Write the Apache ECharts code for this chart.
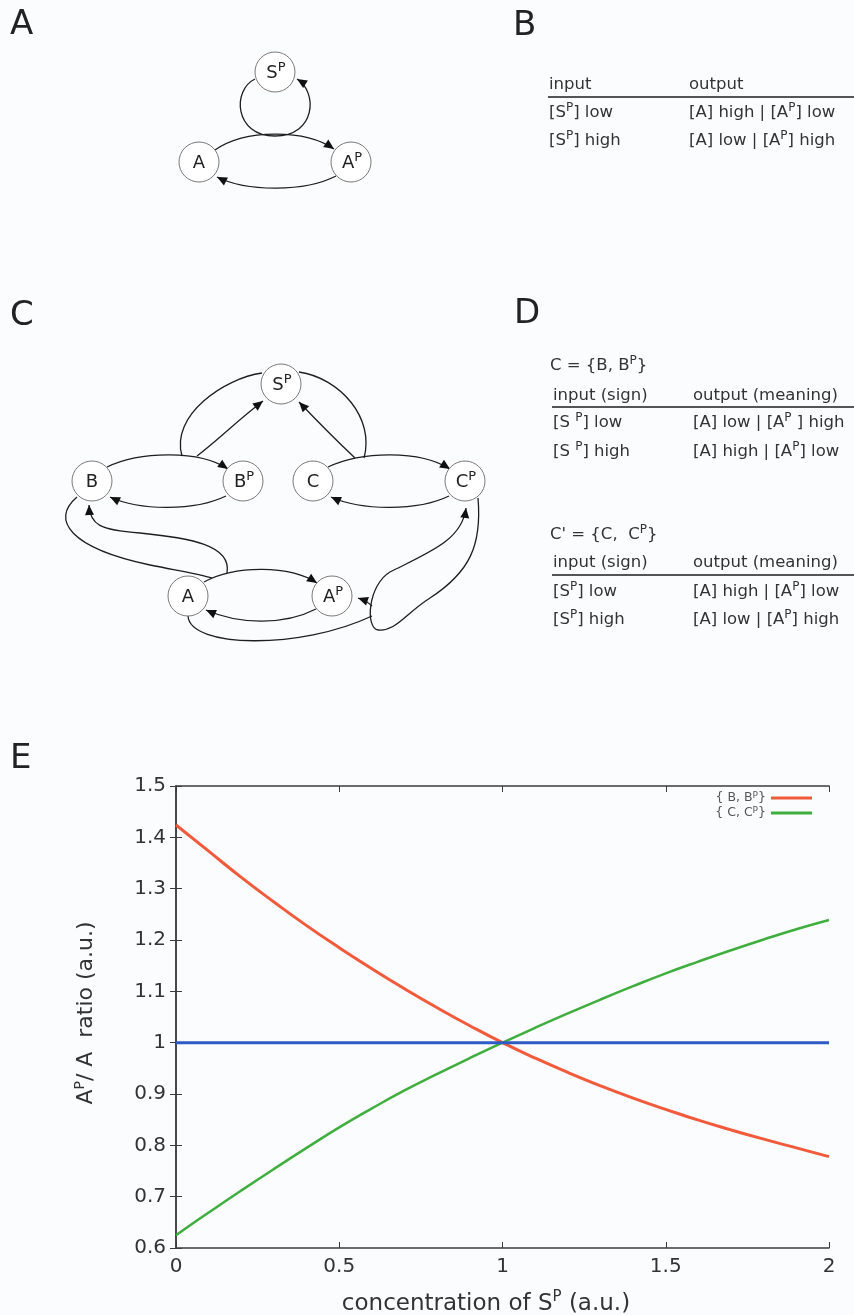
<!DOCTYPE html>
<html><head><meta charset="utf-8">
<script src="https://cdn.jsdelivr.net/npm/echarts@6/dist/echarts.min.js"></script>
<style>html,body{margin:0;padding:0;background:#fbfcfe}#c{width:854px;height:1315px}</style>
</head><body><div id="c"></div>
<script>
// ---------------- Panel E data ----------------
const xValues  = [0,0.1,0.2,0.3,0.4,0.5,0.6,0.7,0.8,0.9,1.0,1.1,1.2,1.3,1.4,1.5,1.6,1.7,1.8,1.9,2.0];
const ratioBBP = [1.424,1.373,1.322,1.274,1.228,1.185,1.144,1.105,1.068,1.033,1.000,0.970,0.942,0.916,0.892,0.870,0.849,0.830,0.812,0.795,0.778];
const ratioCCP = [0.625,0.669,0.712,0.754,0.795,0.835,0.872,0.907,0.939,0.970,1.000,1.029,1.057,1.084,1.110,1.135,1.158,1.180,1.201,1.221,1.239];
const ratioRef = [1,1,1,1,1,1,1,1,1,1,1,1,1,1,1,1,1,1,1,1,1];
const seriesNames = ['BBP','CCP','ref'];
const legendLabels = {BBP:'{ B, B{s|P}}', CCP:'{ C, C{s|P}}'};

// ---------------- Panel texts ----------------
const panelLetters = [['A',10,25],['B',513,26],['C',10,316],['D',514,314],['E',10,759]];
const tableBHeader = ['input','output'];
const tableBRows = [['[S{s|P}] low','[A] high | [A{s|P}] low'],['[S{s|P}] high','[A] low | [A{s|P}] high']];
const tableD1Title = 'C = {B, B{s|P}}';
const tableD2Title = "C' = {C,  C{s|P}}";
const tableDHeader = ['input (sign)','output (meaning)'];
const tableD1Rows = [['[S {s|P}] low','[A] low | [A{s|P} ] high'],['[S {s|P}] high','[A] high | [A{s|P}] low']];
const tableD2Rows = [['[S{s|P}] low','[A] high | [A{s|P}] low'],['[S{s|P}] high','[A] low | [A{s|P}] high']];

// ---------------- Network diagrams ----------------
const nodesA = [['S{s|P}',275,72],['A',199,162],['A{s|P}',351,162]];
const edgesA = [
  [[215,150,245,129,305,129,334,149]],
  [[336,176,305,192,247,192,217,177]],
  [[255,79,232,90,234,136,275,136],[275,136,316,136,318,92,297,79]]
];
const nodesC = [['S{s|P}',281,384],['B',92,481],['B{s|P}',243,481],['C',313,481],['C{s|P}',465,481],['A',188,596],['A{s|P}',332,596]];
const edgesC = [
  [[107,467,140,451,200,450,228,469]],
  [[226,496,195,511,140,511,110,497]],
  [[328,467,362,451,420,450,450,469]],
  [[449,496,418,511,362,511,331,497]],
  [[204,582,235,565,290,565,317,583]],
  [[316,609,285,625,240,625,206,610]],
  [[197,456,218,440,238,420,263,401]],
  [[355,458,338,442,320,424,299,402]],
  [[227,573,232,545,190,538,140,533],[140,533,100,530,90,525,89,505]],
  [[390,572,430,552,462,540,466,508]],
  [[372,606,368,602,364,600,358,598]]
];
const plainC = [
  [262,373,225,378,170,415,182,456],
  [299,372,340,378,375,418,364,458],
  [77,497,50,520,70,548,150,565],[150,565,180,571,200,574,212,578],
  [478,498,482,545,470,572,430,598],[430,598,405,614,395,632,378,630],[378,630,365,628,368,585,390,572],
  [188,616,190,648,300,650,372,616]
];

const FONT = 'DejaVu Sans';
const els = [];
function richText(x, y, text, size, align, color) {
  els.push({type:'text', x:x, y:y, silent:true, z:10, style:{
    text:text, fontSize:size, fontFamily:FONT, fill:color||'#333', align:align||'left', verticalAlign:'middle',
    lineHeight: Math.round(size*1.35),
    rich:{s:{fontSize:Math.round(size*0.7), fontFamily:FONT, fill:color||'#333', verticalAlign:'top', lineHeight:Math.round(size*0.75)}}
  }});
}
function curve(s) {
  els.push({type:'bezierCurve', silent:true, z:5, shape:{x1:s[0],y1:s[1],cpx1:s[2],cpy1:s[3],cpx2:s[4],cpy2:s[5],x2:s[6],y2:s[7]},
    style:{stroke:'#1e1e1e', lineWidth:1.3, fill:null}});
}
function arrow(s) {
  const x2=s[6], y2=s[7], dx=x2-s[4], dy=y2-s[5], len=Math.hypot(dx,dy), ux=dx/len, uy=dy/len, L=10, W=4.5;
  const bx=x2-ux*L, by=y2-uy*L;
  els.push({type:'polygon', silent:true, z:6, shape:{points:[[x2,y2],[bx-uy*W,by+ux*W],[bx+uy*W,by-ux*W]]}, style:{fill:'#111'}});
}
function drawEdges(edges) {
  edges.forEach(function(segs){ segs.forEach(curve); arrow(segs[segs.length-1]); });
}
function drawNodes(nodes) {
  nodes.forEach(function(n){
    els.push({type:'circle', silent:true, z:7, shape:{cx:n[1], cy:n[2], r:20}, style:{fill:'#ffffff', stroke:'#7a7a7a', lineWidth:1}});
    richText(n[1]+(n[0].length>1?1:0), n[2]+1, n[0], 18, 'center', '#222');
  });
}
drawEdges(edgesA); drawNodes(nodesA);
plainC.forEach(curve); drawEdges(edgesC); drawNodes(nodesC);

panelLetters.forEach(function(p){
  els.push({type:'text', x:p[1], y:p[2], silent:true, style:{text:p[0], fontSize:34, fontFamily:FONT, fill:'#222', align:'left', verticalAlign:'middle'}});
});
function table(x1, x2, yHead, yLine, rows, rowY, header) {
  richText(x1, yHead, header[0], 16.5, 'left');
  richText(x2, yHead, header[1], 16.5, 'left');
  els.push({type:'line', silent:true, shape:{x1:x1-1, y1:yLine, x2:854, y2:yLine}, style:{stroke:'#555', lineWidth:2}});
  rows.forEach(function(r, i){ richText(x1, rowY[i], r[0], 16.5, 'left'); richText(x2, rowY[i], r[1], 16.5, 'left'); });
}
table(549, 689, 85, 97, tableBRows, [113,141], tableBHeader);
richText(550, 366, tableD1Title, 16.5, 'left');
table(553, 693, 396, 407, tableD1Rows, [423,452], tableDHeader);
richText(550, 535, tableD2Title, 16.5, 'left');
table(553, 693, 563, 575, tableD2Rows, [592,620], tableDHeader);

// ---------------- Chart ----------------
const axisColor = '#3c3c3c';
function supRich(sz){ return {s:{fontSize:sz, fontFamily:FONT, color:'#333', verticalAlign:'top', lineHeight:sz+1}}; }
function pairs(ys){ return xValues.map(function(x,i){ return [x, ys[i]]; }); }
function fmt(v){ return String(parseFloat(v.toFixed(1))); }
const chart = echarts.init(document.getElementById('c'), null, {renderer:'canvas'});
chart.setOption({
  backgroundColor:'#fbfcfe',
  animation:false,
  graphic:{elements:els},
  grid:{left:176, top:786, right:25, bottom:67, containLabel:false, outerBoundsMode:'none'},
  legend:{
    data:['BBP','CCP'], orient:'vertical', right:42, top:791, padding:0, align:'right',
    icon:'rect', itemWidth:41, itemHeight:3, itemGap:1,
    formatter:function(n){ return legendLabels[n]; },
    textStyle:{fontSize:12.5, fontFamily:FONT, color:'#555', lineHeight:14,
      rich:{s:{fontSize:9, fontFamily:FONT, color:'#555', verticalAlign:'top', lineHeight:9}}}
  },
  xAxis:[{
    type:'value', min:0, max:2, interval:0.5, position:'bottom',
    axisLine:{show:true, lineStyle:{color:axisColor, width:1.5}},
    axisTick:{show:true, inside:true, length:6, lineStyle:{color:axisColor}},
    axisLabel:{fontSize:20, fontFamily:FONT, color:'#333', margin:9, formatter:fmt},
    splitLine:{show:false},
    name:'concentration of S{s|P} (a.u.)', nameLocation:'middle', nameGap:42,
    nameTextStyle:{fontSize:23, fontFamily:FONT, color:'#333', lineHeight:28, padding:[0,33,0,0], rich:supRich(15)}
  },{
    type:'value', min:0, max:2, interval:0.5, position:'top',
    axisLine:{show:true, lineStyle:{color:axisColor, width:1.5}},
    axisTick:{show:true, inside:true, length:6, lineStyle:{color:axisColor}},
    axisLabel:{show:false}, splitLine:{show:false}
  }],
  yAxis:[{
    type:'value', min:0.6, max:1.5, interval:0.1, position:'left',
    axisLine:{show:true, lineStyle:{color:axisColor, width:1.5}},
    axisTick:{show:true, inside:true, length:6, lineStyle:{color:axisColor}},
    axisLabel:{fontSize:20, fontFamily:FONT, color:'#333', margin:10, formatter:fmt},
    splitLine:{show:false},
    name:'A{s|P}/ A  ratio (a.u.)', nameLocation:'middle', nameGap:76, nameRotate:90,
    nameTextStyle:{fontSize:22, fontFamily:FONT, color:'#333', lineHeight:27, padding:[0,0,0,8], rich:supRich(14)}
  },{
    type:'value', min:0.6, max:1.5, interval:0.1, position:'right',
    axisLine:{show:true, lineStyle:{color:axisColor, width:1.5}},
    axisTick:{show:true, inside:true, length:6, lineStyle:{color:axisColor}},
    axisLabel:{show:false}, splitLine:{show:false}
  }],
  series:[
    {name:seriesNames[0], type:'line', data:pairs(ratioBBP), smooth:true, showSymbol:false, color:'#f15a3a', lineStyle:{width:3, color:'#f15a3a'}, z:3},
    {name:seriesNames[1], type:'line', data:pairs(ratioCCP), smooth:true, showSymbol:false, color:'#3fae3f', lineStyle:{width:2.5, color:'#3fae3f'}, z:3},
    {name:seriesNames[2], type:'line', data:pairs(ratioRef), showSymbol:false, color:'#2f5bc4', lineStyle:{width:3, color:'#2f5bc4'}, z:4}
  ]
});
</script></body></html>
